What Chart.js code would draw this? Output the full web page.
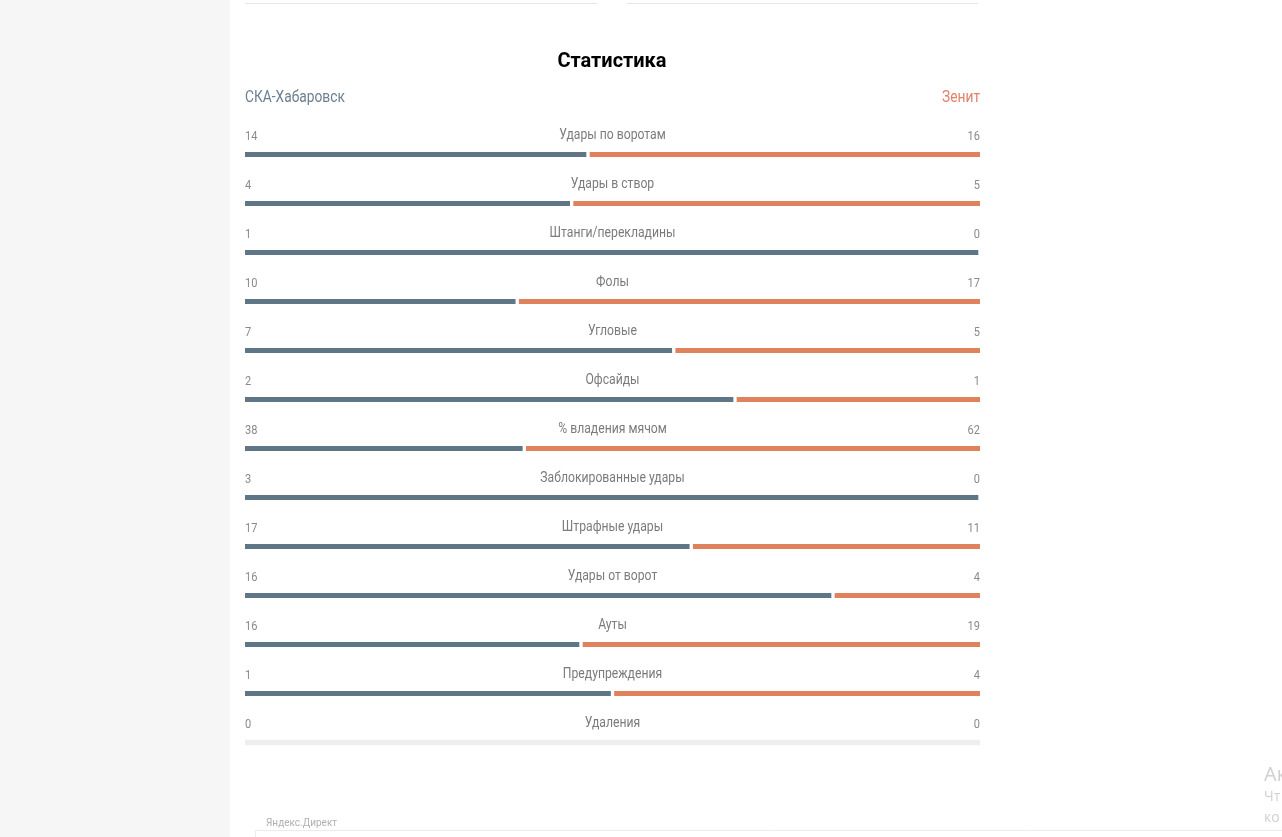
<!DOCTYPE html>
<html>
<head>
<meta charset="utf-8">
<script src="https://cdn.jsdelivr.net/npm/chart.js@4.4.1/dist/chart.umd.min.js"></script>
<style>
html,body{margin:0;padding:0;background:#fff;overflow:hidden;}
canvas{display:block;}
</style>
</head>
<body>
<canvas id="c" width="1282" height="837"></canvas>
<script>
const title = 'Статистика';
const homeTeam = 'СКА-Хабаровск';
const awayTeam = 'Зенит';
const categories = ['Удары по воротам','Удары в створ','Штанги/перекладины','Фолы','Угловые','Офсайды','% владения мячом','Заблокированные удары','Штрафные удары','Удары от ворот','Ауты','Предупреждения','Удаления'];
const homeValues = [14,4,1,10,7,2,38,3,17,16,16,1,0];
const awayValues = [16,5,0,17,5,1,62,0,11,4,19,4,0];
// bar lengths as drawn in the picture (the warnings row is drawn as an even split)
const homeBar = [14,4,1,10,7,2,38,3,17,16,16,1,0];
const awayBar = [16,5,0,17,5,1,62,0,11,4,19,1,0];

const BLUE = '#5f7687', ORANGE = '#e0825b', EMPTY = '#eeeeee';
const homeShare = homeBar.map((h,i)=>{const t=h+awayBar[i];return t&&h?h/t:null;});
const awayShare = awayBar.map((a,i)=>{const t=homeBar[i]+a;return t&&a?a/t:null;});
const emptyShare = homeBar.map((h,i)=>(h+awayBar[i])===0?1:null);

function condText(ctx, txt, x, y, font, color, align, sx){
  ctx.save();
  ctx.font = font; ctx.fillStyle = color; ctx.textAlign = align; ctx.textBaseline = 'middle';
  ctx.translate(x,y); ctx.scale(sx,1); ctx.fillText(txt,0,0);
  ctx.restore();
}

const decor = {
  id:'decor',
  beforeDraw(chart){
    const ctx = chart.ctx;
    ctx.save();
    ctx.fillStyle='#ffffff'; ctx.fillRect(0,0,1282,837);
    ctx.fillStyle='#f6f6f6'; ctx.fillRect(0,0,230,837);
    ctx.fillStyle='#e6e6e6';
    ctx.fillRect(245,3,352,1); ctx.fillRect(627,3,351,1);
    // ad block
    ctx.strokeStyle='#ececec'; ctx.lineWidth=1;
    ctx.beginPath(); ctx.moveTo(255.5,837); ctx.lineTo(255.5,830.5); ctx.lineTo(1282,830.5); ctx.stroke();
    ctx.font='10px Roboto'; ctx.fillStyle='#b0b0b0'; ctx.textBaseline='middle'; ctx.textAlign='left';
    ctx.fillText('Яндекс.Директ',266,823);
    // watermark
    ctx.fillStyle='#d0d0d0';
    ctx.font='20px "Open Sans"'; ctx.fillText('Ак',1264,775);
    ctx.font='14px "Open Sans"'; ctx.fillText('Чт',1264,797); ctx.fillText('ко',1264,818);
    ctx.restore();
    ctx.save();
    ctx.font='bold 20px Roboto'; ctx.fillStyle='#000'; ctx.textAlign='center'; ctx.textBaseline='middle';
    ctx.fillText(title,612,62);
    ctx.restore();
    condText(ctx, homeTeam, 245, 97.5, '16px Roboto', '#6c8091', 'left', 0.86);
    condText(ctx, awayTeam, 980, 97.5, '16px Roboto', '#e0826a', 'right', 0.86);
  },
  afterDatasetsDraw(chart){
    const ctx = chart.ctx, ys = chart.scales.y;
    categories.forEach((c,i)=>{
      const y = ys.getPixelForValue(i);
      condText(ctx, c, 612.5, y-19.5, '14px Roboto', '#7b7b7b', 'center', 0.87);
      condText(ctx, String(homeValues[i]), 245, y-18, '13px Roboto', '#8a8a8a', 'left', 0.85);
      condText(ctx, String(awayValues[i]), 980, y-18, '13px Roboto', '#8a8a8a', 'right', 0.85);
    });
  }
};

new Chart(document.getElementById('c'), {
  type:'bar',
  data:{
    labels:categories,
    datasets:[
      {data:homeShare, backgroundColor:BLUE, borderColor:'#ffffff', borderWidth:{right:2}, borderSkipped:false, barThickness:5},
      {data:awayShare, backgroundColor:ORANGE, borderColor:'#ffffff', borderWidth:{left:2}, borderSkipped:false, barThickness:5},
      {data:emptyShare, backgroundColor:EMPTY, borderWidth:0, barThickness:5}
    ]
  },
  options:{
    indexAxis:'y', responsive:false, animation:false, devicePixelRatio:1,
    layout:{padding:{left:245,right:302,top:130,bottom:70}},
    plugins:{legend:{display:false}, tooltip:{enabled:false}},
    scales:{
      x:{stacked:true, min:0, max:1, display:false},
      y:{stacked:true, display:false}
    }
  },
  plugins:[decor]
});
</script>
</body>
</html>
